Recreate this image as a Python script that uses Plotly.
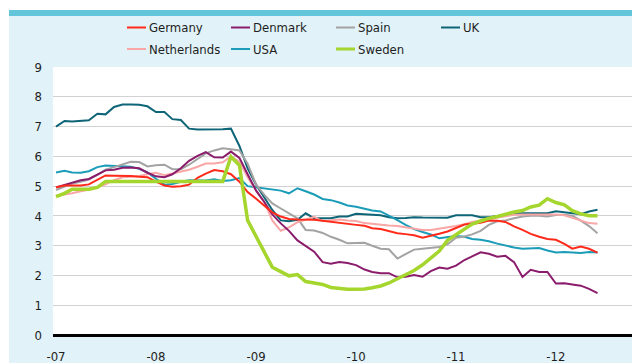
import pandas as pd
import plotly.graph_objects as go

# Monthly observations, Jan 2007 - Jun 2012 (per cent)
months = pd.date_range("2007-01-01", periods=66, freq="MS")

germany = [4.96, 5.02, 5.02, 5.02, 5.06, 5.22, 5.36, 5.35, 5.35, 5.34, 5.32, 5.30,
           5.15, 5.02, 4.98, 5.00, 5.05, 5.28, 5.42, 5.54, 5.50, 5.40, 5.15, 4.80,
           4.58, 4.33, 4.12, 3.98, 3.90, 3.88, 3.88, 3.87, 3.84, 3.80, 3.77, 3.74,
           3.70, 3.67, 3.59, 3.56, 3.48, 3.42, 3.39, 3.35, 3.27, 3.33, 3.40, 3.48,
           3.60, 3.71, 3.74, 3.77, 3.85, 3.84, 3.80, 3.65, 3.53, 3.40, 3.30, 3.23,
           3.20, 3.06, 2.90, 2.97, 2.90, 2.77]

denmark = [4.96, 5.05, 5.12, 5.20, 5.24, 5.38, 5.53, 5.55, 5.62, 5.63, 5.60, 5.45,
           5.33, 5.30, 5.40, 5.60, 5.85, 6.02, 6.14, 5.97, 5.96, 6.16, 5.95, 5.40,
           4.85, 4.45, 4.05, 3.75, 3.50, 3.18, 2.98, 2.80, 2.45, 2.40, 2.45, 2.42,
           2.35, 2.20, 2.12, 2.08, 2.08, 1.94, 1.96, 2.02, 1.96, 2.15, 2.27, 2.23,
           2.33, 2.52, 2.64, 2.78, 2.73, 2.63, 2.66, 2.45, 1.95, 2.19, 2.12, 2.12,
           1.73, 1.74, 1.70, 1.66, 1.55, 1.41]

spain = [4.87, 4.99, 5.09, 5.15, 5.22, 5.38, 5.55, 5.64, 5.73, 5.82, 5.81, 5.66,
         5.70, 5.72, 5.57, 5.57, 5.72, 5.92, 6.10, 6.20, 6.27, 6.24, 6.20, 5.75,
         5.05, 4.70, 4.42, 4.25, 4.08, 3.92, 3.53, 3.51, 3.43, 3.30, 3.20, 3.08,
         3.09, 3.10, 3.00, 2.90, 2.88, 2.57, 2.72, 2.87, 2.90, 2.92, 2.96, 3.05,
         3.27, 3.31, 3.38, 3.50, 3.70, 3.82, 3.85, 3.92, 3.98, 4.01, 4.01, 3.98,
         4.03, 4.04, 4.01, 3.84, 3.66, 3.42]

uk = [7.00, 7.19, 7.17, 7.18, 7.21, 7.43, 7.41, 7.66, 7.74, 7.74, 7.73, 7.68,
      7.49, 7.49, 7.25, 7.22, 6.93, 6.90, 6.90, 6.90, 6.91, 6.93, 6.35, 5.60,
      5.05, 4.60, 4.20, 3.85, 3.82, 3.87, 4.09, 3.92, 3.91, 3.92, 3.98, 3.98,
      4.07, 4.05, 4.05, 4.02, 3.96, 3.92, 3.93, 3.96, 3.95, 3.94, 3.94, 3.94,
      4.02, 4.02, 4.02, 3.96, 3.96, 4.00, 4.05, 4.09, 4.09, 4.09, 4.09, 4.09,
      4.16, 4.13, 4.10, 4.06, 4.15, 4.21]

netherlands = [4.68, 4.72, 4.76, 4.83, 4.88, 4.96, 5.06, 5.20, 5.30, 5.32, 5.34, 5.40,
               5.45, 5.37, 5.43, 5.50, 5.55, 5.65, 5.76, 5.76, 5.80, 6.00, 5.82, 5.30,
               4.85, 4.45, 3.85, 3.50, 3.62, 3.79, 3.87, 3.97, 3.82, 3.84, 3.88, 3.85,
               3.83, 3.76, 3.73, 3.71, 3.68, 3.66, 3.62, 3.57, 3.53, 3.53, 3.57, 3.62,
               3.66, 3.72, 3.80, 3.85, 3.90, 3.96, 4.00, 4.04, 4.05, 4.05, 4.05, 4.05,
               4.05, 4.02, 3.94, 3.83, 3.76, 3.74]

usa = [5.46, 5.52, 5.46, 5.45, 5.50, 5.64, 5.69, 5.68, 5.66, 5.65, 5.58, 5.46,
       5.25, 5.05, 5.07, 5.15, 5.20, 5.20, 5.19, 5.23, 5.17, 5.20, 5.27, 5.00,
       4.96, 4.92, 4.88, 4.85, 4.76, 4.93, 4.83, 4.72, 4.57, 4.53, 4.45, 4.35,
       4.31, 4.23, 4.18, 4.15, 4.02, 3.86, 3.70, 3.56, 3.46, 3.38, 3.25, 3.30,
       3.33, 3.30, 3.23, 3.20, 3.15, 3.07, 3.00, 2.94, 2.90, 2.92, 2.92, 2.84,
       2.77, 2.79, 2.78, 2.76, 2.79, 2.77]

sweden = [4.65, 4.76, 4.90, 4.90, 4.90, 4.96, 5.16, 5.16, 5.16, 5.16, 5.16, 5.16,
          5.16, 5.16, 5.16, 5.16, 5.16, 5.16, 5.16, 5.16, 5.16, 5.99, 5.70, 3.85,
          3.30, 2.72, 2.28, 2.13, 1.99, 2.03, 1.80, 1.75, 1.70, 1.60, 1.56, 1.54,
          1.54, 1.55, 1.59, 1.65, 1.75, 1.89, 2.05, 2.17, 2.36, 2.60, 2.82, 3.18,
          3.38, 3.58, 3.73, 3.83, 3.92, 3.98, 4.06, 4.13, 4.18, 4.30, 4.36, 4.58,
          4.45, 4.37, 4.18, 4.07, 4.01, 4.01]

series_names = ["Germany", "Denmark", "Spain", "UK", "Netherlands", "USA", "Sweden"]
series_values = [germany, denmark, spain, uk, netherlands, usa, sweden]
series_colors = ["#ff2a1a", "#8b1c6c", "#a3a3a3", "#0e6577", "#f9a6a6", "#1b9cb8", "#a5d62e"]
series_widths = [2, 2, 2, 2, 2, 2, 3.5]

year_ticks = pd.date_range("2007-01-01", periods=6, freq="YS")
year_labels = ["-07", "-08", "-09", "-10", "-11", "-12"]
y_ticks = list(range(0, 10))

W, H = 632, 363
ML, MR, MT, MB = 53, 0, 67, 27
PW, PH = W - ML - MR, H - MT - MB

FONT = "Liberation Sans Narrow, DejaVu Sans Condensed, Arial Narrow, sans-serif"
FSIZE = 13
TEXT = "#1e1e1e"
PANEL = "#e1f2f8"
BAR = "#62c5da"


def px(x):
    return (x - ML) / PW


def py(y):
    return (H - MB - y) / PH


fig = go.Figure()

# Draw order: Sweden on top
order = [3, 5, 2, 4, 1, 0, 6]
for i in order:
    fig.add_trace(go.Scatter(
        x=months, y=series_values[i], mode="lines", name=series_names[i],
        line=dict(color=series_colors[i], width=series_widths[i]),
        showlegend=False,
    ))

shapes = [
    # white page edges around the panel
    dict(type="rect", xref="paper", yref="paper", x0=px(0), x1=px(W), y0=py(10), y1=py(0),
         fillcolor="white", line_width=0, layer="below"),
    dict(type="rect", xref="paper", yref="paper", x0=px(0), x1=px(9), y0=py(H), y1=py(0),
         fillcolor="white", line_width=0, layer="below"),
    # top band
    dict(type="rect", xref="paper", yref="paper", x0=px(9), x1=px(W), y0=py(16), y1=py(10),
         fillcolor=BAR, line_width=0, layer="below"),
]

annotations = []
# legend: two rows, four columns
col_x = [127, 231, 336, 441]
row_y = [27.5, 49]
for k, name in enumerate(series_names):
    r, c = (0, k) if k < 4 else (1, k - 4)
    x0 = col_x[c]
    y0 = row_y[r]
    shapes.append(dict(type="line", xref="paper", yref="paper",
                       x0=px(x0), x1=px(x0 + 19), y0=py(y0), y1=py(y0),
                       line=dict(color=series_colors[k], width=3 if k == 6 else 2)))
    annotations.append(dict(xref="paper", yref="paper", x=px(x0 + 20), y=py(y0),
                            xanchor="left", yanchor="middle", showarrow=False,
                            text=name, font=dict(family=FONT, size=FSIZE, color=TEXT)))

fig.update_layout(
    width=W, height=H,
    margin=dict(l=ML, r=MR, t=MT, b=MB, pad=0),
    paper_bgcolor=PANEL,
    plot_bgcolor="white",
    showlegend=False,
    shapes=shapes,
    annotations=annotations,
    font=dict(family=FONT, size=FSIZE, color=TEXT),
    xaxis=dict(
        range=["2006-12-21", "2012-10-05"],
        tickvals=year_ticks, ticktext=year_labels,
        showgrid=False, zeroline=False, showline=False,
        ticks="", ticklabelstandoff=11,
        tickfont=dict(family=FONT, size=FSIZE, color=TEXT),
        fixedrange=True,
    ),
    yaxis=dict(
        range=[-0.03, 9.0],
        tickvals=y_ticks,
        showgrid=True, gridcolor="#d2d2d2", gridwidth=1.3,
        zeroline=True, zerolinecolor="#000000", zerolinewidth=3,
        showline=False, ticks="", ticklabelstandoff=10,
        tickfont=dict(family=FONT, size=FSIZE, color=TEXT),
        fixedrange=True,
    ),
)

fig.write_html("out.html")
